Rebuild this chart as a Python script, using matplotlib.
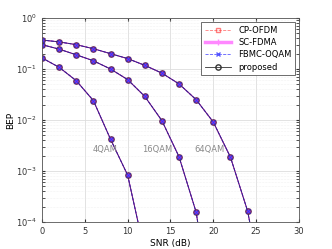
import numpy as np
import matplotlib
matplotlib.use('Agg')
import matplotlib.pyplot as plt

snr = [0, 2, 4, 6, 8, 10, 12, 14, 16, 18, 20, 22, 24, 26]

#BEP per modulation (same for all four schemes)
bep_4qam = [0.165, 0.108, 0.059, 0.024, 0.0042, 8.3e-4, 2.5e-5]
bep_16qam = [0.30, 0.245, 0.19, 0.145, 0.10, 0.062, 0.029, 0.0097, 0.0019, 1.55e-4, 1e-6]
bep_64qam = [0.37, 0.34, 0.30, 0.25, 0.20, 0.16, 0.118, 0.083, 0.051, 0.025, 0.0091, 0.00187, 1.65e-4, 3e-6]

labels = ['4QAM', '16QAM', '64QAM']
label_x = [7.4, 13.4, 19.5]
label_y = [2.7e-3, 2.7e-3, 2.7e-3]

schemes = ['CP-OFDM', 'SC-FDMA', 'FBMC-OQAM', 'proposed']
styles = [dict(color='#ff4444', ls='--', marker='s', ms=3, mfc='#ee55aa', lw=0.6),
          dict(color='#dd33dd', ls='-', marker='+', ms=4, lw=0.8),
          dict(color='#3333ff', ls='--', marker='x', ms=3, lw=0.6),
          dict(color='#222244', ls='-', marker='o', ms=3.8, mfc='#dd44cc', mec='#332244', lw=0.6, alpha=0.75)]

fig = plt.figure(figsize=(3.32, 2.49), dpi=100)
ax = fig.add_axes([0.1265, 0.1084, 0.774, 0.8193])

for name, st in zip(schemes, styles):
	for i, b in enumerate([bep_4qam, bep_16qam, bep_64qam]):
		ax.semilogy(snr[:len(b)], b, label=name if i == 0 else None, **st)

# put the blue crosses on top of the circles
for b in [bep_4qam, bep_16qam, bep_64qam]:
	ax.semilogy(snr[:len(b)], b, ls='none', marker='x', ms=2.3, color='#3333ff', mew=0.7)

for t, x, y in zip(labels, label_x, label_y):
	ax.text(x, y, t, color='#8a8a8a', fontsize=6, ha='center', va='center')

ax.set_xlim(0, 30)
ax.set_ylim(1e-4, 1)
ax.set_xticks([0, 5, 10, 15, 20, 25, 30])
ax.grid(True, which='major', color='#dddddd', lw=0.6)
ax.grid(True, which='minor', color='#e6e6e6', lw=0.4, ls=':')
ax.tick_params(labelsize=6, direction='in', which='both', length=2.5, top=True, right=True, colors='#333333')
for s in ax.spines.values():
	s.set_color('#555555')
	s.set_linewidth(0.6)
ax.set_xlabel('SNR (dB)', fontsize=6.5, labelpad=2)
ax.set_ylabel('BEP', fontsize=6.5, labelpad=1)

leg = ax.legend(loc='upper right', fontsize=6, fancybox=False, framealpha=1, edgecolor='#555555', handlelength=3.2, borderpad=0.4, labelspacing=0.4)
leg.get_frame().set_linewidth(0.6)
hl = leg.get_lines()
hl[0].set_markerfacecolor('none')
hl[0].set_alpha(0.7)
hl[1].set_linewidth(2.5)
hl[1].set_color('#ff88ff')
hl[2].set_alpha(0.8)
hl[3].set_markerfacecolor('none')
hl[3].set_markeredgecolor('#333333')
hl[3].set_color('#333333')
hl[3].set_alpha(1)

fig.savefig('out.png', dpi=100)
